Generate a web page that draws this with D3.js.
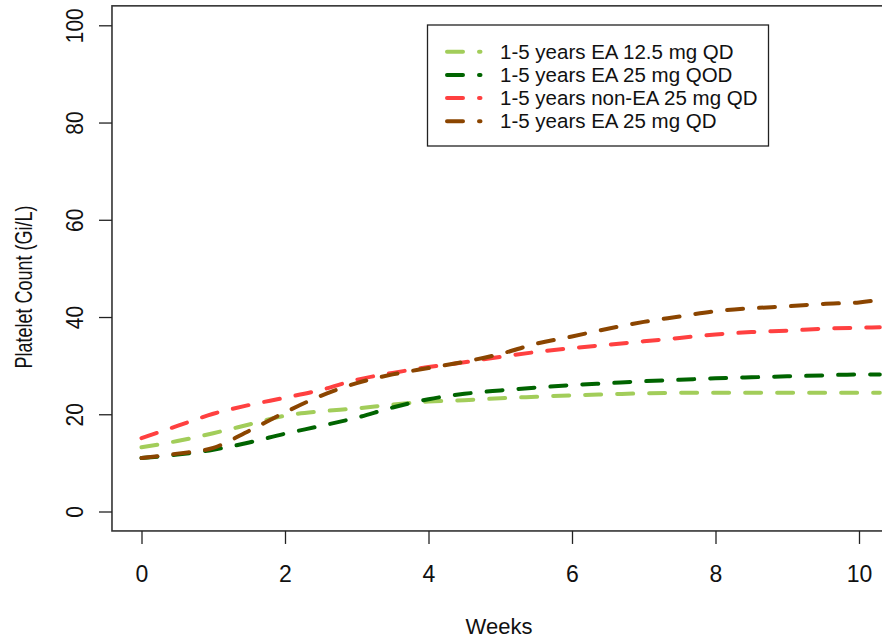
<!DOCTYPE html>
<html>
<head>
<meta charset="utf-8">
<script src="https://cdn.jsdelivr.net/npm/d3@7"></script>
<style>
  body { margin: 0; background: #fff; }
  svg { display: block; font-family: "Liberation Sans", Arial, sans-serif; }
  .tick line { stroke: #222; stroke-width: 1.3; }
  .tick text { fill: #111; }
</style>
</head>
<body>
<svg id="mainFrame"></svg>
<script>
const weeks = [0, 0.5, 1, 1.5, 2, 2.5, 3, 3.5, 4, 4.5, 5, 5.5, 6, 6.5, 7, 7.5, 8, 8.5, 9, 9.5, 10, 10.29]

const ea125QD = [13.2, 14.5, 16.1, 17.9, 19.7, 20.6, 21.2, 22.0, 22.6, 22.9, 23.3, 23.6, 23.9, 24.1, 24.3, 24.4, 24.4, 24.4, 24.4, 24.4, 24.4, 24.4]
const ea25QOD = [11.0, 11.7, 12.7, 14.2, 16.0, 17.6, 19.3, 21.4, 23.1, 24.2, 24.9, 25.5, 26.0, 26.4, 26.8, 27.1, 27.4, 27.6, 27.8, 28.0, 28.2, 28.2]
const nonEa25QD = [15.1, 17.6, 20.1, 21.9, 23.4, 25.0, 27.1, 28.5, 29.7, 30.7, 31.8, 32.8, 33.6, 34.3, 35.0, 35.7, 36.4, 36.9, 37.2, 37.6, 37.8, 37.9]
const ea25QD = [11.0, 11.9, 13.1, 16.6, 20.4, 23.8, 26.4, 28.2, 29.5, 30.8, 32.4, 34.5, 36.0, 37.6, 39.0, 40.1, 41.2, 41.8, 42.2, 42.7, 43.0, 43.6]

const seriesNames = ['1-5 years EA 12.5 mg QD', '1-5 years EA 25 mg QOD', '1-5 years non-EA 25 mg QD', '1-5 years EA 25 mg QD']
const seriesValues = [ea125QD, ea25QOD, nonEa25QD, ea25QD]
const seriesColors = ['#a2cd5a', '#006400', '#ff4040', '#8b4500']

const xTicks = [0, 2, 4, 6, 8, 10]
const yTicks = [0, 20, 40, 60, 80, 100]

const width = 882, height = 640

const svg = d3.select('#mainFrame')
    .attr('width', width)
    .attr('height', height)

// R style axis limits, 4% padding each side
const xMax = 72 / 7
const xPad = 0.04 * xMax
const yPad = 0.04 * 100

const xScale = d3.scaleLinear()
    .domain([0, 10])
    .range([141.5, 859])

const yScale = d3.scaleLinear()
    .domain([0, 100])
    .range([511.5, 25.3])

const boxLeft = xScale(-xPad)
const boxRight = xScale(xMax + xPad)
const boxTop = yScale(100 + yPad)
const boxBottom = yScale(-yPad)

// series lines
const line = d3.line()
    .x(d => xScale(d.week))
    .y(d => yScale(d.value))
    .curve(d3.curveMonotoneX)

const seriesData = seriesValues.map((vals, i) => ({
    name: seriesNames[i],
    color: seriesColors[i],
    points: weeks.map((w, j) => ({ week: w, value: vals[j] }))
}))

svg.append('g')
    .attr('id', 'content')
    .selectAll('path')
    .data(seriesData)
    .join('path')
    .attr('d', d => line(d.points))
    .attr('fill', 'none')
    .attr('stroke', d => d.color)
    .attr('stroke-width', 4)
    .attr('stroke-dasharray', '16,16')
    .attr('stroke-linecap', 'round')

// plot box
svg.append('rect')
    .attr('x', boxLeft)
    .attr('y', boxTop)
    .attr('width', boxRight - boxLeft)
    .attr('height', boxBottom - boxTop)
    .attr('fill', 'none')
    .attr('stroke', '#333')
    .attr('stroke-width', 1.6)

// y axis
const yAxis = d3.axisLeft(yScale)
    .tickValues(yTicks)
    .tickSize(13)

const yAxisGroup = svg.append('g')
    .attr('id', 'yAxis')
    .attr('transform', `translate(${boxLeft},0)`)
    .call(yAxis)

yAxisGroup.select('.domain').remove()
yAxisGroup.selectAll('text')
    .attr('x', null)
    .attr('dy', null)
    .attr('text-anchor', 'middle')
    .attr('transform', 'translate(-29,0) rotate(-90) scale(0.95,1.08)')
    .style('font-size', '22px')

// x axis
const xAxis = d3.axisBottom(xScale)
    .tickValues(xTicks)
    .tickSize(13)
    .tickPadding(22)

const xAxisGroup = svg.append('g')
    .attr('id', 'xAxis')
    .attr('transform', `translate(0,${boxBottom})`)
    .call(xAxis)

xAxisGroup.select('.domain').remove()
xAxisGroup.selectAll('text').style('font-size', '23px')

// axis titles
svg.append('text')
    .attr('x', 499)
    .attr('y', 634)
    .attr('text-anchor', 'middle')
    .style('font-size', '22px')
    .attr('fill', '#111')
    .text('Weeks')

svg.append('text')
    .attr('transform', 'translate(31.5,287) rotate(-90) scale(1,1.35)')
    .attr('text-anchor', 'middle')
    .style('font-size', '18px')
    .attr('fill', '#111')
    .text('Platelet Count (Gi/L)')

// legend
const legend = svg.append('g').attr('id', 'legend')

legend.append('rect')
    .attr('x', 427.5)
    .attr('y', 25)
    .attr('width', 341)
    .attr('height', 121)
    .attr('fill', '#fff')
    .attr('stroke', '#222')
    .attr('stroke-width', 1.3)

const legendRows = legend.selectAll('g.row')
    .data(seriesData)
    .join('g')
    .attr('class', 'row')
    .attr('transform', (d, i) => `translate(0,${51.7 + i * 23.2})`)

legendRows.append('line')
    .attr('x1', 447)
    .attr('x2', 480.5)
    .attr('stroke', d => d.color)
    .attr('stroke-width', 4)
    .attr('stroke-dasharray', '16,16')
    .attr('stroke-linecap', 'round')

legendRows.append('text')
    .attr('x', 500)
    .attr('dy', '0.35em')
    .style('font-size', '20.5px')
    .attr('fill', '#111')
    .text(d => d.name)
</script>
</body>
</html>
